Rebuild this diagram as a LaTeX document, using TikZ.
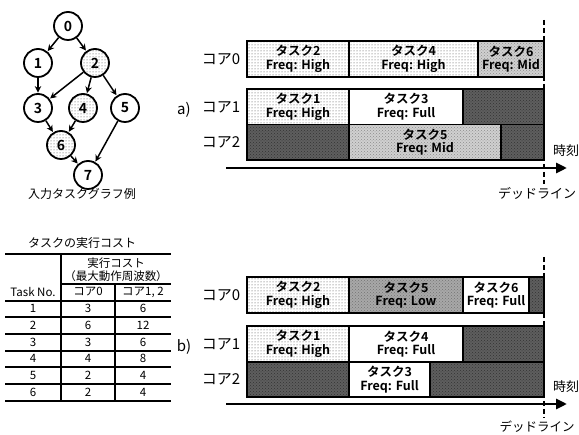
\documentclass[tikz,border=0pt]{standalone}
\usepackage{fontspec}
\setmainfont{Noto Sans CJK JP}[BoldFont={Noto Sans CJK JP Bold}]
\usepackage{xcolor}
\usepackage{tikz}
\usetikzlibrary{arrows.meta, patterns, positioning}
\definecolor{IdleGrey}{HTML}{5E5E5E}
\definecolor{MidGrey}{HTML}{D0D0D0}
\definecolor{LowGrey}{HTML}{A8A8A8}

\begin{document}
\begin{tikzpicture}[x=1pt, y=-1pt, >={Stealth[length=6.5pt,width=6.5pt]},
    vertex/.style={circle, draw, line width=1.8pt, minimum size=28pt, inner sep=0pt, font=\bfseries\fontsize{14}{14}\selectfont},
    dotfill/.style={pattern=dots, pattern color=black!75},
    edge/.style={->, line width=1.5pt, shorten >=0.5pt},
    slot/.style={draw, line width=1.5pt, inner sep=0pt, align=center, font=\bfseries\fontsize{12.5}{13.5}\selectfont},
    high/.style={slot, dotfill},
    mid/.style={slot, preaction={fill=MidGrey}, pattern=crosshatch dots, pattern color=black!45},
    low/.style={slot, preaction={fill=LowGrey}, pattern=crosshatch dots, pattern color=black!55},
    full/.style={slot, fill=white},
    idle/.style={slot, preaction={fill=IdleGrey}, pattern=crosshatch dots, pattern color=black!80},
    core/.style={font=\fontsize{15}{15}\selectfont},
    note/.style={font=\fontsize{13}{13}\selectfont},
    cell/.style={font=\fontsize{11.5}{12}\selectfont},
    rule/.style={line width=1.7pt},
    timeline/.style={line width=2.8pt, -{Triangle[length=11pt,width=10pt]}},
    deadline/.style={line width=1.6pt, dash pattern=on 5pt off 3pt}]
    \useasboundingbox (0,0) rectangle (579,435);

    % Input task graph
    \node [vertex] (g0) at (68,26) {0};
    \node [vertex] (g1) at (38,63) {1};
    \node [vertex, dotfill] (g2) at (95,63) {2};
    \node [vertex] (g3) at (38,108) {3};
    \node [vertex, dotfill] (g4) at (83,108) {4};
    \node [vertex] (g5) at (125,108) {5};
    \node [vertex, dotfill] (g6) at (61,145) {6};
    \node [vertex] (g7) at (88,175) {7};
    \draw [edge] (g0) -- (g1);
    \draw [edge] (g0) -- (g2);
    \draw [edge] (g1) -- (g3);
    \draw [edge] (g2) -- (g3);
    \draw [edge] (g2) -- (g4);
    \draw [edge] (g2) -- (g5);
    \draw [edge] (g3) -- (g6);
    \draw [edge] (g4) -- (g6);
    \draw [edge] (g5) -- (g7);
    \draw [edge] (g6) -- (g7);
    \node [note, font=\fontsize{12}{12}\selectfont] (gcap) at (82,194) {入力タスクグラフ例};

    % Cost table
    \node [cell, font=\fontsize{12}{12}\selectfont] (ttitle) at (82,243) {タスクの実行コスト};
    \draw [rule] (5,254) -- (171,254);
    \draw [rule] (61,284) -- (171,284);
    \foreach \ty in {300.7, 317.3, 334, 350.7, 367.3, 384, 400.7}
        \draw [rule] (5,\ty) -- (171,\ty);
    \draw [rule] (61,254) -- (61,400.7);
    \draw [rule] (115,284) -- (115,400.7);
    \node [cell] (hcost) at (116,263) {実行コスト};
    \node [cell] (hfreq) at (116,276) {（最大動作周波数）};
    \node [cell] (htask) at (33,292) {Task No.};
    \node [cell] (hc0) at (88,292) {コア0};
    \node [cell] (hc12) at (143,292) {コア1, 2};
    \foreach \tn/\cz/\co [count=\i] in {1/3/6, 2/6/12, 3/3/6, 4/4/8, 5/2/4, 6/2/4} {
        \node [cell] (tn\i) at (33,{292+16.7*\i}) {\tn};
        \node [cell] (cz\i) at (88,{292+16.7*\i}) {\cz};
        \node [cell] (co\i) at (143,{292+16.7*\i}) {\co};
    }

    % Schedule a)
    \node [core] (a-c0) at (221,59) {コア0};
    \node [core] (a-lab) at (184,110) {a)};
    \node [core] (a-c1) at (221,107) {コア1};
    \node [core] (a-c2) at (221,142.5) {コア2};
    \node [high, minimum width=102pt, minimum height=36pt] (a-t2) at (298,59) {タスク2\\Freq: High};
    \node [high, minimum width=129pt, minimum height=36pt] (a-t4) at (413.5,59) {タスク4\\Freq: High};
    \node [mid, minimum width=66pt, minimum height=36pt] (a-t6) at (511,59) {タスク6\\Freq: Mid};
    \node [high, minimum width=102pt, minimum height=35.5pt] (a-t1) at (298,106.75) {タスク1\\Freq: High};
    \node [full, minimum width=114pt, minimum height=35.5pt] (a-t3) at (406,106.75) {タスク3\\Freq: Full};
    \node [idle, minimum width=81pt, minimum height=35.5pt] (a-i1) at (503.5,106.75) {};
    \node [idle, minimum width=102pt, minimum height=35.5pt] (a-i2) at (298,142.25) {};
    \node [mid, minimum width=152pt, minimum height=35.5pt] (a-t5) at (425,142.25) {タスク5\\Freq: Mid};
    \node [idle, minimum width=43pt, minimum height=35.5pt] (a-i3) at (522.5,142.25) {};
    \coordinate (a-ts) at (226,168);
    \coordinate (a-te) at (567,168);
    \draw [timeline] (a-ts) -- (a-te);
    \coordinate (a-dt) at (544,20);
    \coordinate (a-db) at (544,184);
    \draw [deadline] (a-dt) -- (a-db);
    \node [note] (a-time) at (566,151) {時刻};
    \node [note] (a-dl) at (537,193) {デッドライン};

    % Schedule b)
    \node [core] (b-c0) at (221,295) {コア0};
    \node [core] (b-lab) at (184,347) {b)};
    \node [core] (b-c1) at (221,344) {コア1};
    \node [core] (b-c2) at (221,379.5) {コア2};
    \node [high, minimum width=102pt, minimum height=36pt] (b-t2) at (298,295) {タスク2\\Freq: High};
    \node [low, minimum width=114pt, minimum height=36pt] (b-t5) at (406,295) {タスク5\\Freq: Low};
    \node [full, minimum width=66pt, minimum height=36pt] (b-t6) at (496,295) {タスク6\\Freq: Full};
    \node [idle, minimum width=15pt, minimum height=36pt] (b-i0) at (536.5,295) {};
    \node [high, minimum width=102pt, minimum height=36pt] (b-t1) at (298,344) {タスク1\\Freq: High};
    \node [full, minimum width=114pt, minimum height=36pt] (b-t4) at (406,344) {タスク4\\Freq: Full};
    \node [idle, minimum width=81pt, minimum height=36pt] (b-i1) at (503.5,344) {};
    \node [idle, minimum width=102pt, minimum height=35pt] (b-i2) at (298,379.5) {};
    \node [full, minimum width=81pt, minimum height=35pt] (b-t3) at (389.5,379.5) {タスク3\\Freq: Full};
    \node [idle, minimum width=114pt, minimum height=35pt] (b-i3) at (487,379.5) {};
    \coordinate (b-ts) at (226,404);
    \coordinate (b-te) at (567,404);
    \draw [timeline] (b-ts) -- (b-te);
    \coordinate (b-dt) at (544,257);
    \coordinate (b-db) at (544,418);
    \draw [deadline] (b-dt) -- (b-db);
    \node [note] (b-time) at (566,387) {時刻};
    \node [note, font=\fontsize{12.5}{12.5}\selectfont] (b-dl) at (537,426.5) {デッドライン};
\end{tikzpicture}
\end{document}
